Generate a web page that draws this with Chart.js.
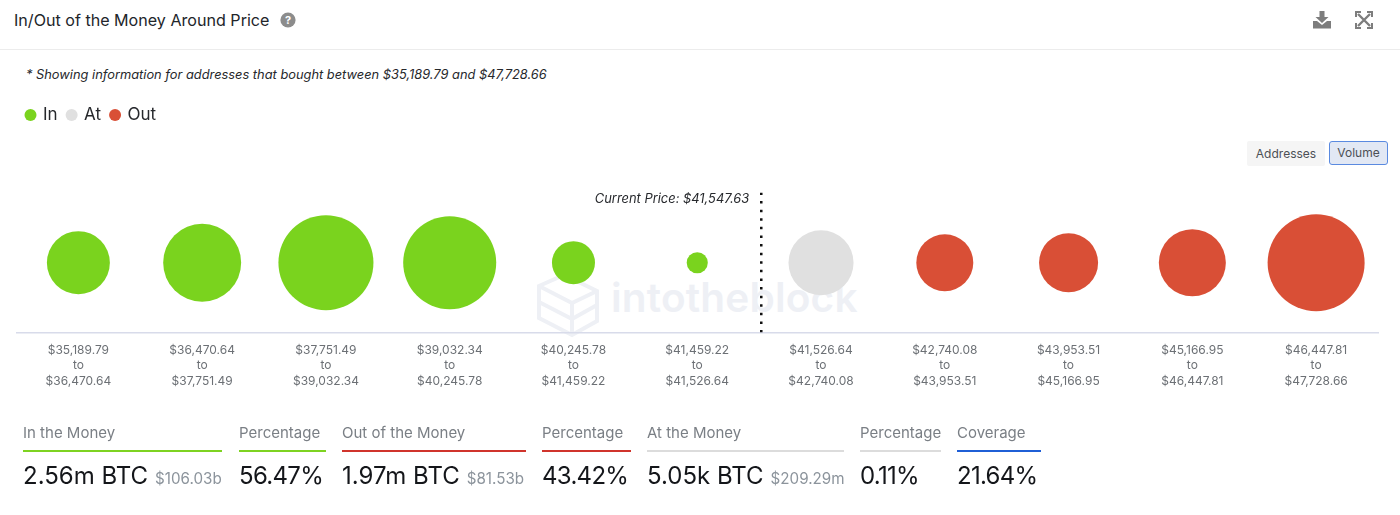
<!DOCTYPE html>
<html><head><meta charset="utf-8">
<style>
html,body{margin:0;padding:0;background:#fff;width:1400px;height:515px;overflow:hidden;font-family:Inter,sans-serif}
.abs{position:absolute;white-space:nowrap}
#chartBox{position:absolute;left:0;top:0;width:1400px;height:515px}
.hd{font-size:15px;color:#7a7f85;top:424px;line-height:18px}
.rule{height:2px;top:450px}
.val{font-size:24px;color:#14161a;top:461px;line-height:30px}
.pct{letter-spacing:-.7px}
.sub{font-size:15.2px;color:#8c949c;margin-left:7px;letter-spacing:0}
</style></head><body>
<div class="abs" style="left:14px;top:10px;font-size:16.100px;line-height:20px;color:#22252a">In/Out of the Money Around Price</div>
<svg class="abs" style="left:280px;top:12px" width="16" height="16" viewBox="0 0 16 16"><circle cx="8" cy="8" r="7.6" fill="#8c8c8c"/><text x="8" y="12" text-anchor="middle" font-family="Inter" font-weight="700" font-size="11" fill="#fff">?</text></svg>
<svg class="abs" style="left:1312px;top:11px" width="20" height="18" viewBox="0 0 20 18"><path d="M7.5 0h5v6h4l-6.5 6L3.5 6h4z" fill="#7d7d7d"/><path d="M1 10h4l5 4 5-4h4v7.500H1z" fill="#7d7d7d"/></svg>
<svg class="abs" style="left:1355px;top:11px" width="18" height="18" viewBox="0 0 18 18" fill="none" stroke="#7d7d7d" stroke-width="2.400"><path d="M3 3l12 12M15 3L3 15"/><path d="M1 6V1h5M12 1h5v5M17 12v5h-5M6 17H1v-5" stroke-width="2"/></svg>
<div class="abs" style="left:0;top:49px;width:1400px;height:1px;background:#ececec"></div>
<div class="abs" style="left:26px;top:66px;font-size:12.850px;line-height:17px;font-style:italic;color:#26282c">* Showing information for addresses that bought between $35,189.79 and $47,728.66</div>
<svg class="abs" style="left:536px;top:272px" width="64" height="66" viewBox="0 0 64 66" fill="none" stroke="#eef0f5" stroke-width="4"><path d="M3 14L28 3l33 16v30L36 63 3 46z"/><path d="M3 14l33 17 25-12M36 31v32M3 30l33 17 25-14"/></svg>
<div class="abs" style="left:611px;top:272px;font-size:40.500px;line-height:52px;font-weight:600;color:#eef0f5;letter-spacing:.2px">intotheblock</div>
<div id="chartBox"><canvas id="c" width="1400" height="515"></canvas></div>
<div class="abs" style="left:1247px;top:141px;width:78px;height:25px;background:#f5f5f5;border-radius:2px;font-size:12px;line-height:25px;text-align:center;color:#4c5056">Addresses</div>
<div class="abs" style="left:1329px;top:141px;width:57px;height:22px;background:#e2e8f4;border:1.500px solid #5a8ae0;border-radius:3px;font-size:12px;line-height:22px;text-align:center;color:#4c5056">Volume</div>

<div class="abs hd" style="left:23px">In the Money</div><div class="abs rule" style="left:23px;width:199px;background:#7ed321"></div>
<div class="abs val" style="left:23px">2.56m BTC<span class="sub">$106.03b</span></div>
<div class="abs hd" style="left:239px">Percentage</div><div class="abs rule" style="left:239px;width:87px;background:#7ed321"></div>
<div class="abs val pct" style="left:239px">56.47%</div>
<div class="abs hd" style="left:342px">Out of the Money</div><div class="abs rule" style="left:342px;width:184px;background:#d0342c"></div>
<div class="abs val" style="left:342px">1.97m BTC<span class="sub">$81.53b</span></div>
<div class="abs hd" style="left:542px">Percentage</div><div class="abs rule" style="left:542px;width:89px;background:#d0342c"></div>
<div class="abs val pct" style="left:542px">43.42%</div>
<div class="abs hd" style="left:647px">At the Money</div><div class="abs rule" style="left:647px;width:197px;background:#dcdcdc"></div>
<div class="abs val" style="left:647px">5.05k BTC<span class="sub">$209.29m</span></div>
<div class="abs hd" style="left:860px">Percentage</div><div class="abs rule" style="left:860px;width:81px;background:#dcdcdc"></div>
<div class="abs val pct" style="left:860px">0.11%</div>
<div class="abs hd" style="left:957px">Coverage</div><div class="abs rule" style="left:957px;width:84px;background:#1f5fd6"></div>
<div class="abs val pct" style="left:957px">21.64%</div>

<script src="https://cdn.jsdelivr.net/npm/chart.js@4"></script>
<script>
const rangeLow  = ['$35,189.79','$36,470.64','$37,751.49','$39,032.34','$40,245.78','$41,459.22','$41,526.64','$42,740.08','$43,953.51','$45,166.95','$46,447.81'];
const rangeHigh = ['$36,470.64','$37,751.49','$39,032.34','$40,245.78','$41,459.22','$41,526.64','$42,740.08','$43,953.51','$45,166.95','$46,447.81','$47,728.66'];
const inVolume  = [347,532,790,757,162,39];
const atVolume  = [370];
const outVolume = [284,305,393,823];
const currentPrice = 41547.63;
const atBinLow = 41526.64, atBinHigh = 42740.08;

const maxVolume = 823, maxRadius = 48.5;
const radiusOf = v => maxRadius * Math.sqrt(v / maxVolume);
const pts = (arr, start) => arr.map((v, i) => ({x: start + i, y: 0, r: radiusOf(v)}));
const priceX = 5.5 + (currentPrice - atBinLow) / (atBinHigh - atBinLow);

const priceLabel = {
  id: 'priceLabel',
  afterDatasetsDraw(chart) {
    const {ctx, scales} = chart;
    ctx.save();
    ctx.font = 'italic 12.9px Inter';
    ctx.fillStyle = '#26282c';
    ctx.textAlign = 'right';
    ctx.textBaseline = 'middle';
    ctx.fillText('Current Price: $' + currentPrice.toLocaleString('en-US'), scales.x.getPixelForValue(priceX) - 12, 199);
    ctx.restore();
  }
};

new Chart(document.getElementById('c'), {
  type: 'bubble',
  plugins: [priceLabel],
  data: { datasets: [
    {label: 'In',  data: pts(inVolume, 0),  backgroundColor: '#7AD31E', borderWidth: 0, hoverRadius: 0},
    {label: 'At',  data: pts(atVolume, 6),  backgroundColor: '#E0E0E0', borderWidth: 0, hoverRadius: 0},
    {label: 'Out', data: pts(outVolume, 7), backgroundColor: '#D94F36', borderWidth: 0, hoverRadius: 0},
    {type: 'line', label: 'Current Price', data: [{x: priceX, y: -1}, {x: priceX, y: 1}],
     borderColor: '#111', borderWidth: 2.5, borderDash: [2.5, 6.1], pointRadius: 0, fill: false}
  ]},
  options: {
    responsive: false, animation: false, devicePixelRatio: 1,
    layout: {autoPadding: false, padding: {left: 16.5, right: 22, top: 96.5, bottom: 124}},
    plugins: {
      tooltip: {enabled: false},
      legend: {
        position: 'top', align: 'start',
        labels: {
          usePointStyle: true, pointStyle: 'circle', boxWidth: 8, boxHeight: 8.5, padding: 10,
          font: {family: 'Inter', size: 17}, color: '#26282c',
          filter: item => item.text !== 'Current Price'
        }
      }
    },
    scales: {
      x: {
        type: 'linear', min: -0.5, max: 10.5,
        grid: {display: false},
        border: {color: '#d8dbea', width: 1.5},
        afterBuildTicks: s => { s.ticks = rangeLow.map((_, i) => ({value: i})); },
        ticks: {
          autoSkip: false, maxRotation: 0, minRotation: 0, padding: 2,
          color: '#6c7075', font: {family: 'Inter', size: 12, lineHeight: 1.29},
          callback: (v) => [rangeLow[v], 'to', rangeHigh[v]]
        }
      },
      y: {display: false, min: -1, max: 1.85}
    }
  }
});
</script>
</body></html>
